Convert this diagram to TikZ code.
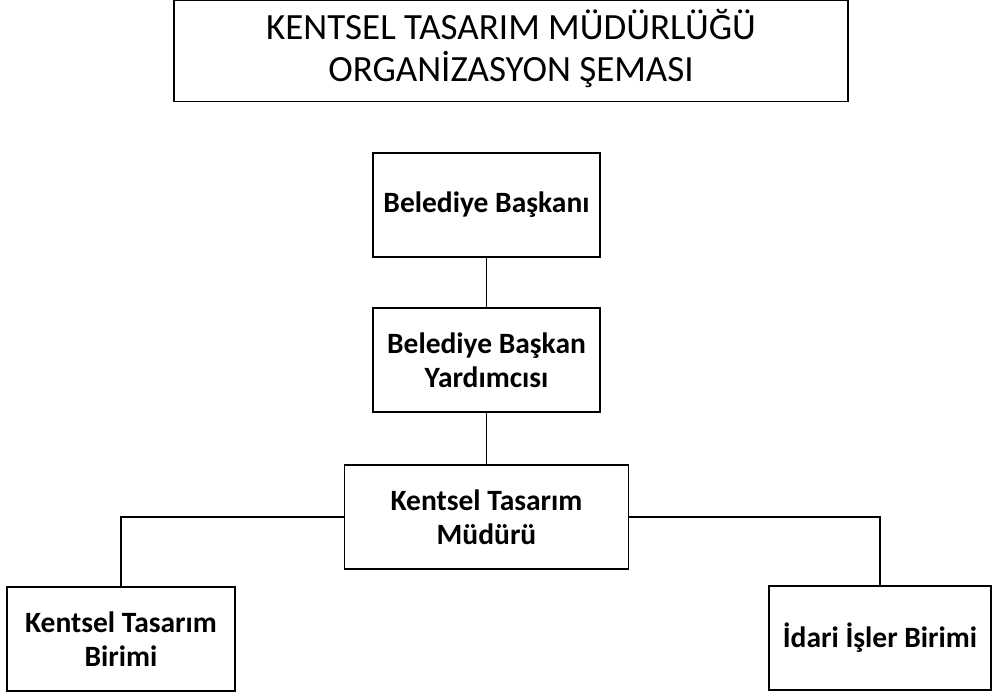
\documentclass[tikz,border=0pt]{standalone}
\usepackage{fontspec}
\setmainfont{Carlito}
\begin{document}
\begin{tikzpicture}[x=1pt,y=-1pt,
  box/.style={draw=black, line width=1.3pt, rectangle, inner sep=0pt, align=center,
    font=\bfseries\fontsize{29.5}{34}\selectfont},
  conn/.style={draw=black, line width=1.3pt}]
\useasboundingbox (0,0) rectangle (992,696);
\fill[white] (0,0) rectangle (992,696);
\node[draw=black, line width=1.3pt, inner sep=0pt, minimum width=674pt, minimum height=101pt] (title) at (511,51) {};
\node[align=center, inner sep=0pt, font=\fontsize{37}{42}\selectfont] (titletext) at (511,49)
  {KENTSEL TASARIM MÜDÜRLÜĞÜ\\ORGANİZASYON ŞEMASI};
\node[box, minimum width=227pt, minimum height=104pt] (bb) at (486.5,205) {Belediye Başkanı};
\node[box, minimum width=227pt, minimum height=104pt] (bby) at (486.5,360) {Belediye Başkan\\Yardımcısı};
\node[box, minimum width=284pt, minimum height=104pt] (ktm) at (486.5,517) {Kentsel Tasarım\\Müdürü};
\node[box, minimum width=228pt, minimum height=104pt] (ktb) at (121,639) {Kentsel Tasarım\\Birimi};
\node[box, minimum width=222pt, minimum height=104pt] (iib) at (880,638) {İdari İşler Birimi};
\draw[conn] (bb.south) -- (bby.north);
\draw[conn] (bby.south) -- (ktm.north);
\draw[conn] (ktm.west) -| (ktb.north);
\draw[conn] (ktm.east) -| (iib.north);
\end{tikzpicture}
\end{document}
